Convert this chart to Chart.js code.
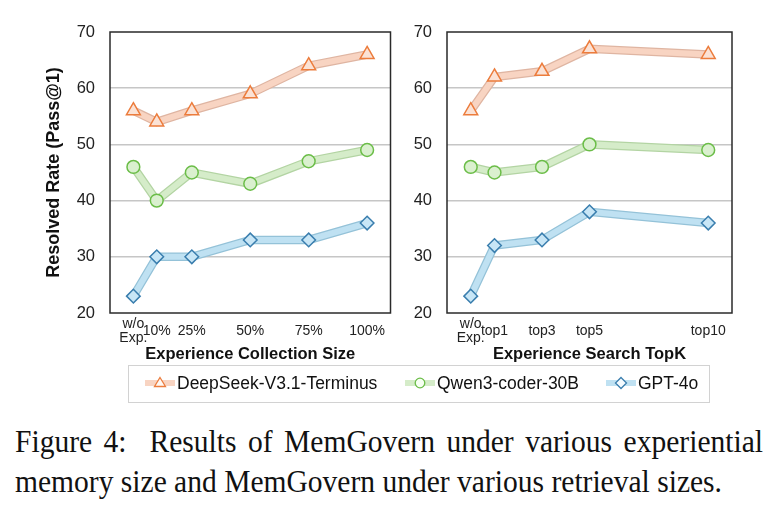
<!DOCTYPE html>
<html><head><meta charset="utf-8">
<script src="https://cdn.jsdelivr.net/npm/chart.js@4.4.1/dist/chart.umd.min.js"></script>
<style>
body{margin:0;background:#fff;width:779px;height:513px;overflow:hidden;position:relative;font-family:"Liberation Sans",Arial,sans-serif;color:#111;}
canvas{position:absolute;top:0;}
#c1{left:0;}
#c2{left:395px;}
#legbox{position:absolute;left:128px;top:365px;width:582px;height:38px;border:1px solid #d2d2d2;box-sizing:border-box;}
.li{position:absolute;top:370px;height:26px;display:flex;align-items:center;font-size:17.5px;white-space:nowrap;}
.li svg{display:block;margin-right:2px;}
.cap{position:absolute;left:15px;font-family:"Liberation Serif","Times New Roman",serif;font-size:32px;line-height:30px;white-space:nowrap;transform-origin:0 0;color:#111;}
</style></head>
<body>
<canvas id="c1" width="400" height="366"></canvas>
<canvas id="c2" width="384" height="366"></canvas>
<div id="legbox"></div>
<div id="leg"></div>
<div id="cap1" class="cap">Figure 4:&nbsp; Results of MemGovern under various experiential</div>
<div id="cap2" class="cap">memory size and MemGovern under various retrieval sizes.</div>
<script>
// ---- data ----
const seriesNames = ['DeepSeek-V3.1-Terminus', 'Qwen3-coder-30B', 'GPT-4o'];

const leftX = [0, 10, 25, 50, 75, 100];
const leftLabels = [['w/o', 'Exp.'], '10%', '25%', '50%', '75%', '100%'];
const leftDeepSeek = [56, 54, 56, 59, 64, 66];
const leftQwen = [46, 40, 45, 43, 47, 49];
const leftGPT = [23, 30, 30, 33, 33, 36];

const rightX = [0, 1, 3, 5, 10];
const rightLabels = [['w/o', 'Exp.'], 'top1', 'top3', 'top5', 'top10'];
const rightDeepSeek = [56, 62, 63, 67, 66];
const rightQwen = [46, 45, 46, 50, 49];
const rightGPT = [23, 32, 33, 38, 36];

const yTicks = [20, 30, 40, 50, 60, 70];

// ---- styles ----
const styles = [
  {line:'#f8d4c2', edge:'#dfb5a2', pt:'triangle', r:8, fill:'#fbe2d5', border:'#ec7c3c'},
  {line:'#d5ecc9', edge:'#b3d4a3', pt:'circle', r:6.4, fill:'#daf0cf', border:'#6bbd48'},
  {line:'#bfe1f2', edge:'#94c2d8', pt:'rectRot', r:6.8, fill:'#c8e6f6', border:'#3a7eae'}
];

function makeDatasets(xs, seriesList){
  const ds = [];
  seriesList.forEach((vals, i) => {
    const s = styles[i];
    const data = xs.map((x, j) => ({x: x, y: vals[j]}));
    ds.push({label: seriesNames[i] + ' edge', data, borderColor: s.edge, borderWidth: 8.5,
      pointRadius: 0, fill: false, order: 10, tension: 0});
    ds.push({label: seriesNames[i], data, borderColor: s.line, borderWidth: 6,
      pointStyle: s.pt, pointRadius: s.r, pointBackgroundColor: s.fill,
      pointBorderColor: s.border, pointBorderWidth: 1.5, fill: false, order: 1, tension: 0});
  });
  return ds;
}

const boxPlugin = {
  id: 'box',
  beforeDatasetsDraw(chart){
    const {ctx, chartArea: a} = chart;
    ctx.save();
    ctx.strokeStyle = '#2a2a2a';
    ctx.lineWidth = 1.5;
    ctx.strokeRect(a.left, a.top, a.right - a.left, a.bottom - a.top);
    ctx.restore();
  }
};

function makeChart(id, xs, labels, seriesList, xmin, xmax, xTitle, yTitle, pad, yWidth){
  return new Chart(document.getElementById(id), {
    type: 'line',
    data: {datasets: makeDatasets(xs, seriesList)},
    plugins: [boxPlugin],
    options: {
      responsive: false, animation: false, devicePixelRatio: 1,
      layout: {padding: pad},
      plugins: {legend: {display: false}, tooltip: {enabled: false}},
      scales: {
        x: {
          type: 'linear', min: xmin, max: xmax,
          afterBuildTicks: (sc) => { sc.ticks = xs.map(v => ({value: v})); },
          afterFit: (sc) => { sc.height = 53; },
          grid: {display: false, drawTicks: false},
          border: {display: false},
          ticks: {autoSkip: false, maxRotation: 0, minRotation: 0, padding: 11.5,
            crossAlign: 'center',
            font: {family: 'Liberation Sans', size: 14, lineHeight: 1.0}, color: '#222',
            callback: (v, i) => labels[i]},
          title: {display: true, text: xTitle, color: '#111',
            font: {family: 'Liberation Sans', size: 16.5, weight: 'bold'}, padding: {top: 2, bottom: 2}}
        },
        y: {
          min: 20, max: 70,
          afterBuildTicks: (sc) => { sc.ticks = yTicks.map(v => ({value: v})); },
          afterFit: (sc) => { sc.width = yWidth; },
          grid: {drawTicks: false, lineWidth: 1.5,
            color: (c) => (c.tick && (c.tick.value === 20 || c.tick.value === 70)) ? 'rgba(0,0,0,0)' : '#c6c6c6'},
          border: {display: false},
          ticks: {padding: 15, color: '#222', font: {family: 'Liberation Sans', size: 16.5}},
          title: {display: !!yTitle, text: yTitle || '', color: '#111',
            font: {family: 'Liberation Sans', size: 18, weight: 'bold'}, padding: {top: 4, bottom: 4}}
        }
      }
    }
  });
}

makeChart('c1', leftX, leftLabels, [leftDeepSeek, leftQwen, leftGPT], -10, 110,
  'Experience Collection Size', 'Resolved Rate (Pass@1)', {left: 39, right: 5, top: 32, bottom: 0}, 71);
makeChart('c2', rightX, rightLabels, [rightDeepSeek, rightQwen, rightGPT], -1, 11,
  'Experience Search TopK', null, {left: 0, right: 47, top: 32, bottom: 0}, 52);

// ---- legend ----
function markerSvg(s){
  let m = '';
  if (s.pt === 'triangle') m = `<polygon points="15,6.5 20.5,15.5 9.5,15.5" fill="#fff8f4" stroke="${s.border}" stroke-width="1.3"/>`;
  else if (s.pt === 'circle') m = `<circle cx="15" cy="12" r="4.8" fill="#f6fff2" stroke="${s.border}" stroke-width="1.3"/>`;
  else m = `<polygon points="15,6.5 20.5,12 15,17.5 9.5,12" fill="#f4fbff" stroke="${s.border}" stroke-width="1.3"/>`;
  return `<svg width="30" height="24" viewBox="0 0 30 24"><line x1="0" y1="12" x2="30" y2="12" stroke="${s.line}" stroke-width="6"/>${m}</svg>`;
}
const legPos = [145, 405, 606];
const leg = document.getElementById('leg');
seriesNames.forEach((n, i) => {
  const d = document.createElement('div');
  d.className = 'li';
  d.style.left = legPos[i] + 'px';
  d.innerHTML = markerSvg(styles[i]) + '<span>' + n + '</span>';
  leg.appendChild(d);
});

// ---- caption ----
const c1 = document.getElementById('cap1'), c2 = document.getElementById('cap2');
const w2 = c2.getBoundingClientRect().width;
const sc = 707 / w2;
c2.style.transform = `scaleX(${sc})`;
c2.style.top = '466px';
c1.style.whiteSpace = 'normal';
c1.style.width = (748 / sc) + 'px';
c1.style.textAlign = 'justify';
c1.style.textAlignLast = 'justify';
c1.style.transform = `scaleX(${sc})`;
c1.style.top = '426px';
</script>
</body></html>
